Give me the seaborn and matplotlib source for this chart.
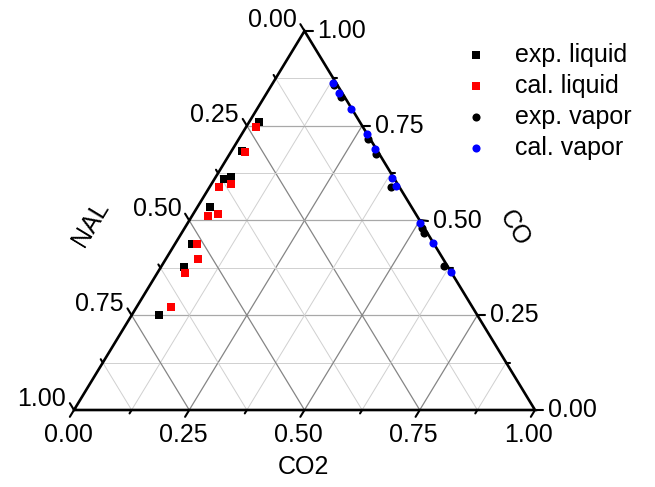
import numpy as np
import pandas as pd
import matplotlib
matplotlib.use("Agg")
import matplotlib.pyplot as plt
import seaborn as sns

# Mole fractions (CO2, CO); NAL = 1 - CO2 - CO
exp_liq_co2 = [0.020, 0.022, 0.020, 0.033, 0.028, 0.037, 0.050, 0.059]
exp_liq_co = [0.761, 0.684, 0.609, 0.614, 0.536, 0.439, 0.378, 0.251]
cal_liq_co2 = [0.020, 0.030, 0.020, 0.042, 0.034, 0.053, 0.047, 0.069, 0.060, 0.074]
cal_liq_co = [0.748, 0.682, 0.589, 0.596, 0.513, 0.518, 0.439, 0.398, 0.362, 0.273]
exp_vap_co2 = [0.135, 0.165, 0.280, 0.317, 0.393, 0.515, 0.526, 0.613]
exp_vap_co = [0.858, 0.827, 0.714, 0.676, 0.589, 0.479, 0.466, 0.380]
cal_vap_co2 = [0.130, 0.157, 0.204, 0.271, 0.309, 0.384, 0.404, 0.504, 0.558, 0.635]
cal_vap_co = [0.864, 0.837, 0.793, 0.728, 0.688, 0.611, 0.591, 0.494, 0.441, 0.365]

series_names = ["exp. liquid", "cal. liquid", "exp. vapor", "cal. vapor"]
tick_values = [0.0, 0.25, 0.5, 0.75, 1.0]
tick_labels = ["0.00", "0.25", "0.50", "0.75", "1.00"]

sns.set_theme(style="white")
plt.rcParams["font.family"] = ["Liberation Sans", "DejaVu Sans"]
plt.rcParams["text.color"] = "black"
FS = 18

W, H = 655, 487
fig = plt.figure(figsize=(W / 100, H / 100), dpi=100)
ax = fig.add_axes([74 / W, 77 / H, 461 / W, 379 / H])
ax.set_xlim(0, 1)
ax.set_ylim(0, 1)
ax.axis("off")


def tern(co2, co):
    co2 = np.asarray(co2, float)
    co = np.asarray(co, float)
    return co2 + co / 2.0, co


def shift(x, y, dx, dy):
    """Move a data point by (dx, dy) display pixels."""
    px, py = ax.transData.transform((x, y))
    return ax.transData.inverted().transform((px + dx, py + dy))


# grid lines every 0.125
for i in range(1, 8):
    c = i / 8
    major = i % 2 == 0
    col_h = "#a8a8a8" if major else "#d0d0d0"
    col_d = "#858585" if major else "#d0d0d0"
    lw = 0.9 if major else 0.7
    # constant CO (horizontal)
    ax.plot([c / 2, 1 - c / 2], [c, c], color=col_h, lw=lw, zorder=1)
    # constant CO2
    ax.plot([c, c + (1 - c) / 2], [0, 1 - c], color=col_d, lw=lw, zorder=1)
    # constant NAL
    ax.plot([1 - c, (1 - c) / 2], [0, 1 - c], color=col_d, lw=lw, zorder=1)

# triangle frame
ax.plot([0, 1, 0.5, 0], [0, 0, 1, 0], color="black", lw=1.9, zorder=3,
        solid_joinstyle="miter", clip_on=False)

ux, uy = 0.52, 0.855
for i in range(9):
    v = i / 8
    L = 8 if i % 2 == 0 else 4
    # left axis (NAL): CO2 = 0, CO = 1 - v
    ex, ey = tern(0, 1 - v)
    tx, ty = shift(ex, ey, -ux * L, uy * L)
    ax.plot([ex, tx], [ey, ty], color="black", lw=1.5, clip_on=False, zorder=3)
    # right axis (CO): NAL = 0
    ex, ey = tern(1 - v, v)
    tx, ty = shift(ex, ey, L, 0)
    ax.plot([ex, tx], [ey, ty], color="black", lw=1.5, clip_on=False, zorder=3)
    # bottom axis (CO2): CO = 0
    ex, ey = tern(v, 0)
    tx, ty = shift(ex, ey, -ux * L, -uy * L)
    ax.plot([ex, tx], [ey, ty], color="black", lw=1.5, clip_on=False, zorder=3)

for v, lab in zip(tick_values, tick_labels):
    ex, ey = tern(0, 1 - v)
    lx, ly = shift(ex, ey, -8, 11)
    ax.text(lx, ly, lab, ha="right", va="center", fontsize=FS, clip_on=False)
    ex, ey = tern(1 - v, v)
    lx, ly = shift(ex, ey, 13, 0)
    ax.text(lx, ly, lab, ha="left", va="center", fontsize=FS, clip_on=False)
    ex, ey = tern(v, 0)
    lx, ly = shift(ex, ey, -6, -25)
    ax.text(lx, ly, lab, ha="center", va="center", fontsize=FS, clip_on=False)

# axis titles
fig.text(303 / W, 1 - 467 / H, "CO2", ha="center", va="center", fontsize=FS)
fig.text(91 / W, 1 - 224 / H, "NAL", ha="center", va="center", fontsize=FS,
         rotation=58.7, rotation_mode="anchor")
fig.text(514 / W, 1 - 228 / H, "CO", ha="center", va="center", fontsize=FS,
         rotation=-58.7, rotation_mode="anchor")

# data
frames = []
for name, c2, c1 in zip(series_names,
                        [exp_liq_co2, cal_liq_co2, exp_vap_co2, cal_vap_co2],
                        [exp_liq_co, cal_liq_co, exp_vap_co, cal_vap_co]):
    x, y = tern(c2, c1)
    frames.append(pd.DataFrame({"x": x, "y": y, "series": name}))
df = pd.concat(frames, ignore_index=True)

styles = {
    "exp. liquid": dict(color="black", marker="s", s=36),
    "cal. liquid": dict(color="#ff0000", marker="s", s=36),
    "exp. vapor": dict(color="black", marker="o", s=34),
    "cal. vapor": dict(color="#0000ff", marker="o", s=34),
}
for name in series_names:
    sns.scatterplot(data=df[df["series"] == name], x="x", y="y", ax=ax,
                    linewidth=0, label=name, zorder=4, clip_on=False,
                    **styles[name])

ax.legend(loc="upper left", bbox_to_anchor=(456 / W, 1 - 43 / H),
          bbox_transform=fig.transFigure, frameon=False, fontsize=FS,
          handlelength=1.6, handletextpad=0.75, labelspacing=0.28,
          borderpad=0, borderaxespad=0, labelcolor="black")

fig.savefig("out.png", dpi=100)
